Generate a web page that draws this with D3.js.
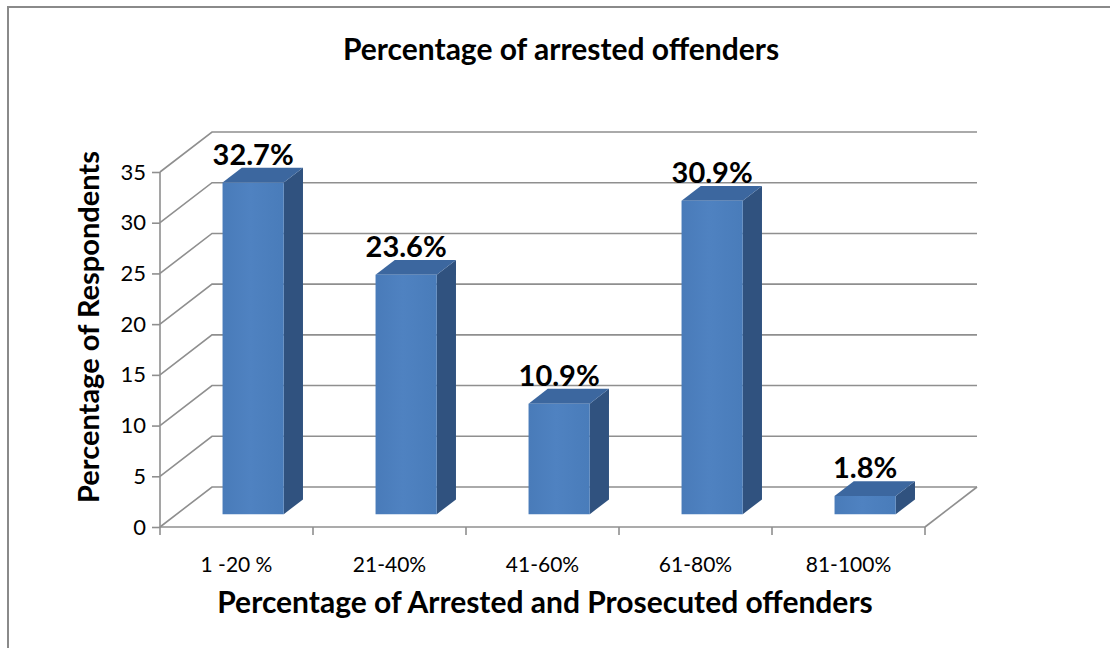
<!DOCTYPE html>
<html>
<head>
<meta charset="utf-8">
<script src="https://cdn.jsdelivr.net/npm/d3@7"></script>
<style>
  html, body { margin: 0; padding: 0; background: #fff; }
  svg { display: block; }
  text { font-family: Lato, "Open Sans", "DejaVu Sans", sans-serif; fill: #000; }
</style>
</head>
<body>
<svg id="chart" width="1110" height="648"></svg>
<script>
// Survey results: share of respondents by percentage of arrested offenders
const categories = ["1 -20 %", "21-40%", "41-60%", "61-80%", "81-100%"];
const values = [32.7, 23.6, 10.9, 30.9, 1.8];
const valueLabels = ["32.7%", "23.6%", "10.9%", "30.9%", "1.8%"];
const yTicks = [0, 5, 10, 15, 20, 25, 30, 35];

const chartTitle = "Percentage of arrested offenders";
const xTitle = "Percentage of Arrested and Prosecuted offenders";
const yTitle = "Percentage of Respondents";

const svg = d3.select("#chart");

// Front plane of the 3-D box
const x = d3.scaleBand().domain(categories).range([160, 925]).paddingInner(0).paddingOuter(0);
const y = d3.scaleLinear().domain([0, 35]).range([527, 172]);

// Oblique depth: z = 0 is the front plane, z = 1 the back wall
const depth = { dx: 52, dy: -40 };
const proj = (px, py, z) => [px + z * depth.dx, py + z * depth.dy];

const gridColor = "#8f8f8f";

// Outer frame (top and left edges fall inside the page)
svg.append("rect")
  .attr("x", 8).attr("y", 7)
  .attr("width", 1200).attr("height", 700)
  .attr("fill", "none").attr("stroke", "#8a8a8a").attr("stroke-width", 2);

const grid = svg.append("g").attr("fill", "none").attr("stroke", gridColor).attr("stroke-width", 1.6);

const [x0, x1] = x.range();
yTicks.forEach(t => {
  const a = proj(x0, y(t), 0);
  const b = proj(x0, y(t), 1);
  const c = proj(x1, y(t), 1);
  grid.append("path").attr("d", d3.line()([a, b, c]));
});

// Floor: right edge
grid.append("path").attr("d", d3.line()([proj(x1, y(0), 0), proj(x1, y(0), 1)]));

// Front axes
grid.append("line").attr("x1", x0).attr("x2", x0).attr("y1", y(35)).attr("y2", y(0));
grid.append("line").attr("x1", x0).attr("x2", x1).attr("y1", y(0)).attr("y2", y(0));

// Category boundary ticks
const bounds = categories.map(c => x(c)).concat([x1]);
grid.selectAll("line.xtick").data(bounds).join("line")
  .attr("class", "xtick")
  .attr("x1", d => d).attr("x2", d => d)
  .attr("y1", y(0)).attr("y2", y(0) + 8);

// Y axis ticks and labels
const yAxis = svg.append("g")
  .attr("transform", `translate(${x0},0)`)
  .call(d3.axisLeft(y).tickValues(yTicks).tickSize(8).tickPadding(6).tickFormat(d3.format("d")));
yAxis.select(".domain").remove();
yAxis.selectAll(".tick line").attr("stroke", gridColor).attr("stroke-width", 1.6);
yAxis.selectAll(".tick text")
  .attr("font-size", 22).attr("font-family", "Lato, 'Open Sans', sans-serif").attr("fill", "#000");

// X axis category labels
const xAxis = svg.append("g")
  .attr("transform", `translate(0,${y(0)})`)
  .call(d3.axisBottom(x).tickSize(0).tickPadding(30));
xAxis.select(".domain").remove();
xAxis.selectAll(".tick text")
  .attr("font-size", 21).attr("font-family", "Lato, 'Open Sans', sans-serif").attr("fill", "#000");

// 3-D columns
const zFront = 0.32, zBack = 0.69;
const barW = x.bandwidth() * 0.4;
const colors = { side: "#30527f", top: "#3c679f" };

const defs = svg.append("defs");
const grad = defs.append("linearGradient").attr("id", "frontGrad")
  .attr("x1", 0).attr("x2", 1).attr("y1", 0).attr("y2", 0);
grad.append("stop").attr("offset", "0%").attr("stop-color", "#497bb9");
grad.append("stop").attr("offset", "45%").attr("stop-color", "#4f82c1");
grad.append("stop").attr("offset", "100%").attr("stop-color", "#497cba");

const bars = svg.append("g");
categories.forEach((c, i) => {
  const v = values[i];
  const cx = x(c) + x.bandwidth() / 2;
  const l = cx - barW / 2, r = cx + barW / 2;
  const fbl = proj(l, y(0), zFront), fbr = proj(r, y(0), zFront);
  const ftl = proj(l, y(v), zFront), ftr = proj(r, y(v), zFront);
  const bbr = proj(r, y(0), zBack), btl = proj(l, y(v), zBack), btr = proj(r, y(v), zBack);

  // side face
  bars.append("path").attr("d", d3.line()([fbr, ftr, btr, bbr]) + "Z").attr("fill", colors.side);
  // top face
  bars.append("path").attr("d", d3.line()([ftl, ftr, btr, btl]) + "Z").attr("fill", colors.top);
  // front face
  bars.append("path").attr("d", d3.line()([fbl, fbr, ftr, ftl]) + "Z").attr("fill", "url(#frontGrad)");

  // value label above the column
  bars.append("text")
    .attr("x", (ftl[0] + ftr[0]) / 2)
    .attr("y", btl[1] - 3)
    .attr("text-anchor", "middle")
    .attr("font-size", 29).attr("font-weight", "bold")
    .text(valueLabels[i]);
});

// Titles
svg.append("text")
  .attr("x", 561).attr("y", 60)
  .attr("text-anchor", "middle")
  .attr("font-size", 30).attr("font-weight", "bold")
  .text(chartTitle);

svg.append("text")
  .attr("x", 545).attr("y", 613)
  .attr("text-anchor", "middle")
  .attr("font-size", 30).attr("font-weight", "bold")
  .text(xTitle);

svg.append("text")
  .attr("transform", "translate(99,327) rotate(-90)")
  .attr("text-anchor", "middle")
  .attr("font-size", 29).attr("font-weight", "bold")
  .text(yTitle);
</script>
</body>
</html>
